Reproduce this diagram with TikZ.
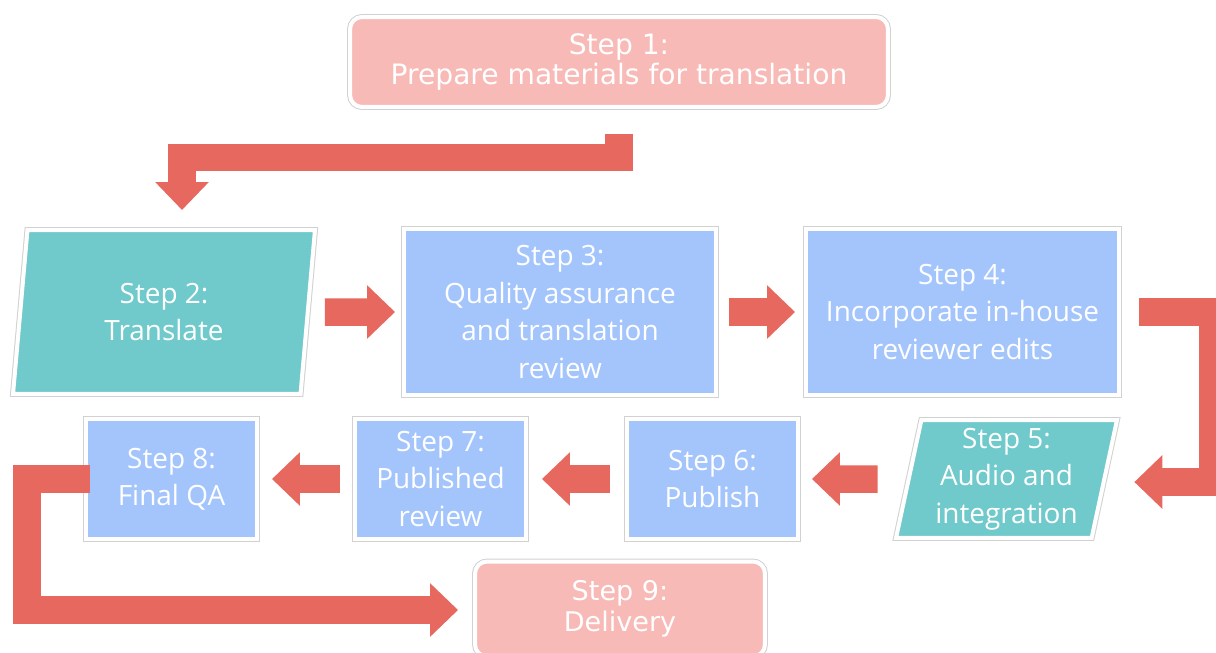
\documentclass[tikz,border=0pt]{standalone}
\usepackage{fontspec}
\setmainfont{Open Sans}
\newfontfamily\wideFont{DejaVu Sans}
\usepackage{tikz}
\usetikzlibrary{shapes.geometric,arrows.meta}
\usepackage{xcolor}
\definecolor{stepPink}{RGB}{247,186,183}
\definecolor{stepTeal}{RGB}{112,201,202}
\definecolor{stepBlue}{RGB}{164,197,252}
\definecolor{flowRed}{RGB}{230,104,94}

\begin{document}
\begin{tikzpicture}[x=0.02cm,y=-0.02cm,
		stepbox/.style={inner sep=0pt,align=center,text=white,
			font=\fontsize{15.9pt}{21.3pt}\selectfont,
			preaction={draw=black!18,line width=0.12cm},
			draw=white,line width=0.08cm},
		boxBlue/.style={stepbox,rectangle,fill=stepBlue},
		boxPink/.style={stepbox,rounded corners=0.24cm,fill=stepPink,
			font=\wideFont\fontsize{15.4pt}{17.5pt}\selectfont},
		boxTeal/.style={stepbox,trapezium,trapezium left angle=76,
			trapezium right angle=104,trapezium stretches body,fill=stepTeal},
		flow/.style={draw=flowRed,line width=0.55cm,
			-{Triangle[length=0.56cm,width=1.04cm]}}]
			\path[use as bounding box] (0,0) rectangle (1216,652);
			\clip (0,0) rectangle (1216,652);
			% steps
			\node[boxPink,minimum width=10.76cm,minimum height=1.8cm,
				font=\wideFont\fontsize{16pt}{17.5pt}\selectfont] (s1) at (619,62) {Step 1:\\Prepare materials for translation};
			\node[boxTeal,minimum width=6.04cm,minimum height=3.28cm] (s2) at (164,312) {Step 2:\\Translate};
			\node[boxBlue,minimum width=6.24cm,minimum height=3.32cm] (s3) at (560,312) {Step 3:\\Quality assurance\\and translation\\review};
			\node[boxBlue,minimum width=6.26cm,minimum height=3.32cm] (s4) at (962.5,312) {Step 4:\\Incorporate in-house\\reviewer edits};
			\node[boxTeal,minimum width=4.42cm,minimum height=2.36cm] (s5) at (1006.5,479) {Step 5:\\Audio and\\integration};
			\node[boxBlue,minimum width=3.42cm,minimum height=2.4cm] (s6) at (712.5,479) {Step 6:\\Publish};
			\node[boxBlue,minimum width=3.42cm,minimum height=2.4cm] (s7) at (440.5,479) {Step 7:\\Published\\review};
			\node[boxBlue,minimum width=3.42cm,minimum height=2.4cm] (s8) at (171.5,479) {Step 8:\\Final QA};
			\node[boxPink,minimum width=5.8cm,minimum height=1.9cm] (s9) at (620,609) {Step 9:\\Delivery};
			% bends of the long arrows
			\coordinate (b1) at (182,157.5);
			\coordinate (b2) at (1213,482);
			\coordinate (b3) at (27,610);
			% arrows
			\draw[flow,shorten <=0.5cm,shorten >=0.36cm] (s1.south) |- (b1) -- (b1 |- s2.north);
			\draw[flow,shorten <=0.3cm,shorten >=0.14cm] (s2.east) -- (s3.west);
			\draw[flow,shorten <=0.22cm,shorten >=0.18cm] (s3.east) -- (s4.west);
			\draw[flow,shorten <=0.36cm,shorten >=0.56cm] (s4.east) -| (b2) -- (b2 -| s5.east);
			\draw[flow,shorten <=0.58cm,shorten >=0.24cm] (s5.west) -- (s6.east);
			\draw[flow,shorten <=0.3cm,shorten >=0.28cm] (s6.west) -- (s7.east);
			\draw[flow,shorten <=0.26cm,shorten >=0.26cm] (s7.west) -- (s8.east);
			\draw[flow,shorten <=-0.12cm,shorten >=0.3cm] (s8.west) -| (b3) -- (b3 -| s9.west);
		\end{tikzpicture}
\end{document}
